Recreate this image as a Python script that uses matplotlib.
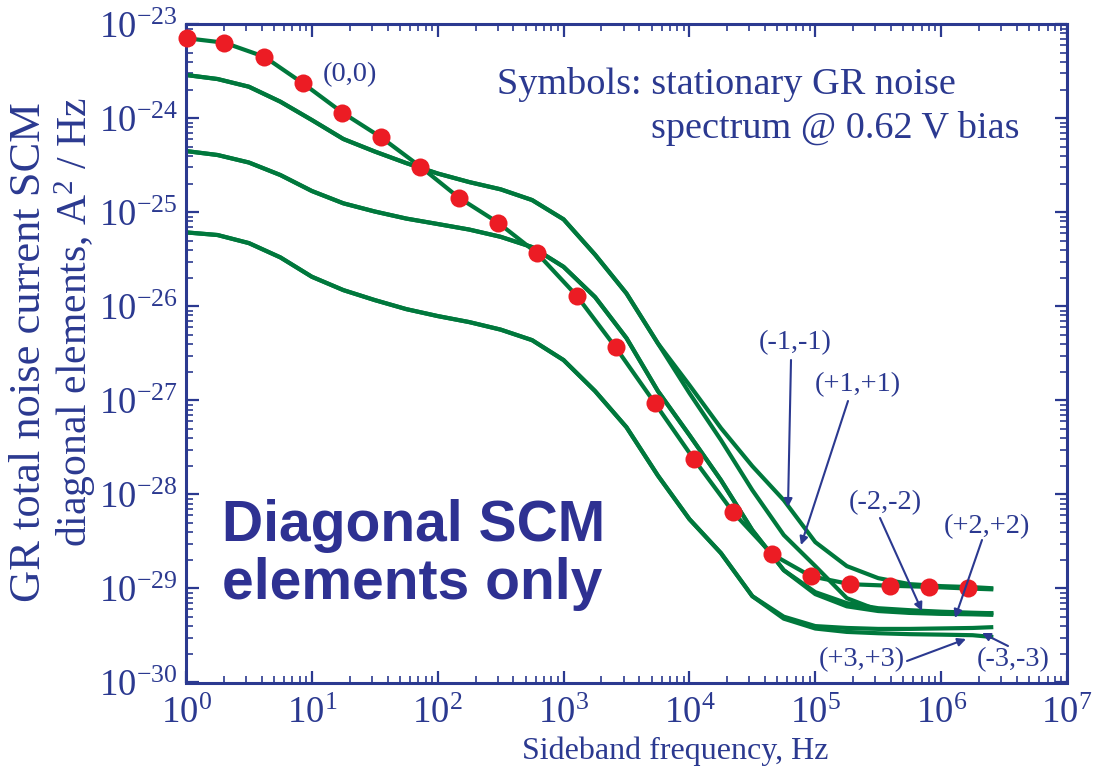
import numpy as np
import matplotlib
matplotlib.use("Agg")
import matplotlib.pyplot as plt
from matplotlib.ticker import FixedLocator, NullFormatter, LogFormatterSciNotation

# ---------------- data ----------------
# symbols: stationary GR noise spectrum @ 0.62 V bias
dot_freq = [1.02, 2.02, 4.19, 8.49, 17.5, 35.5, 72.9, 147.6, 303, 618,
            1270, 2594, 5330, 10820, 22280, 45400, 92300, 189700, 389000,
            794000, 1622000]
dot_psd = [7.1e-24, 6.37e-24, 4.52e-24, 2.36e-24, 1.15e-24, 6.28e-25,
           3.06e-25, 1.43e-25, 7.74e-26, 3.66e-26, 1.30e-26, 3.66e-27,
           9.29e-28, 2.38e-28, 6.44e-29, 2.31e-29, 1.35e-29, 1.11e-29,
           1.07e-29, 1.04e-29, 1.0e-29]

# curve (0,0)
f00 = dot_freq + [2.5e6]
s00 = dot_psd + [9.8e-30]

# common frequency grid of the SCM curves
freq = [1, 1.78, 3.16, 5.62, 10, 17.8, 31.6, 56.2, 100, 178, 316, 562, 1000,
        1780, 3160, 5620, 1e4, 1.78e4, 3.16e4, 5.62e4, 1e5, 1.78e5, 3.16e5,
        5.62e5, 1e6, 1.78e6, 2.5e6]

# log10 of PSD for each diagonal element
lg_m1 = [-23.539, -23.582, -23.664, -23.823, -24.018, -24.220, -24.353,
         -24.476, -24.587, -24.678, -24.755, -24.869, -25.074, -25.45,
         -25.862, -26.394, -26.837, -27.294, -27.699, -28.061, -28.507,
         -28.762, -28.890, -28.954, -28.975, -28.986, -28.997]
lg_p1 = [-23.539, -23.582, -23.664, -23.823, -24.018, -24.220, -24.353,
         -24.476, -24.587, -24.678, -24.755, -24.869, -25.074, -25.45,
         -25.862, -26.394, -26.922, -27.422, -27.954, -28.432, -28.762,
         -29.103, -29.231, -29.252, -29.263, -29.263, -29.263]
lg_m2 = [-24.348, -24.390, -24.470, -24.603, -24.773, -24.904, -24.991,
         -25.066, -25.124, -25.183, -25.260, -25.369, -25.579, -25.901,
         -26.337, -26.901, -27.369, -27.848, -28.380, -28.806, -29.039,
         -29.156, -29.210, -29.231, -29.247, -29.258, -29.263]
lg_p2 = [-24.348, -24.390, -24.470, -24.603, -24.773, -24.904, -24.991,
         -25.066, -25.124, -25.183, -25.260, -25.369, -25.579, -25.901,
         -26.337, -26.901, -27.369, -27.848, -28.380, -28.806, -29.06,
         -29.19, -29.24, -29.26, -29.27, -29.275, -29.28]
lg_m3 = [-25.213, -25.241, -25.327, -25.479, -25.685, -25.827, -25.933,
         -26.029, -26.103, -26.167, -26.247, -26.359, -26.571, -26.901,
         -27.285, -27.800, -28.263, -28.624, -29.082, -29.30, -29.40,
         -29.42, -29.43, -29.43, -29.425, -29.42, -29.412]
lg_p3 = [-25.213, -25.241, -25.327, -25.479, -25.685, -25.827, -25.933,
         -26.029, -26.103, -26.167, -26.247, -26.359, -26.571, -26.901,
         -27.285, -27.800, -28.263, -28.624, -29.082, -29.321, -29.426,
         -29.462, -29.476, -29.486, -29.491, -29.497, -29.515]

curves = {"(-1,-1)": lg_m1, "(+1,+1)": lg_p1, "(-2,-2)": lg_m2,
          "(+2,+2)": lg_p2, "(-3,-3)": lg_m3, "(+3,+3)": lg_p3}

x_decades = [1, 10, 100, 1e3, 1e4, 1e5, 1e6, 1e7]
y_decades = [1e-30, 1e-29, 1e-28, 1e-27, 1e-26, 1e-25, 1e-24, 1e-23]

# ---------------- style ----------------
BLUE = "#2b3990"
NAVY = "#2e3192"
GREEN = "#00783c"
RED = "#ec1c24"
W, H = 1108, 778

plt.rcParams["font.family"] = ["Liberation Serif", "DejaVu Serif"]
plt.rcParams["mathtext.fontset"] = "custom"
plt.rcParams["mathtext.rm"] = "Liberation Serif"
plt.rcParams["mathtext.it"] = "Liberation Serif:italic"
plt.rcParams["mathtext.bf"] = "Liberation Serif:bold"

fig = plt.figure(figsize=(W / 100, H / 100), dpi=100)
ax = fig.add_axes([186 / W, 1 - 682.5 / H, (1067 - 186) / W, (682.5 - 24.3) / H])

for name, lg in curves.items():
    ax.plot(freq, np.power(10.0, lg), color=GREEN, lw=3.0,
            solid_joinstyle="round", zorder=2)
ax.plot(f00, s00, color=GREEN, lw=3.0, zorder=2)
ax.plot(dot_freq, dot_psd, ls="none", marker="o", ms=13, color=RED,
        markeredgewidth=0, zorder=3, clip_on=False)

ax.set_xscale("log")
ax.set_yscale("log")
ax.set_xlim(1, 1e7)
ax.set_ylim(1e-30, 1e-23)

for sp in ax.spines.values():
    sp.set_color(BLUE)
    sp.set_linewidth(2.2)

x_minor = [m * d for d in x_decades[:-1] for m in range(2, 10)]
y_minor = [m * d for d in y_decades[:-1] for m in range(2, 10)]
ax.xaxis.set_major_locator(FixedLocator(x_decades))
ax.yaxis.set_major_locator(FixedLocator(y_decades))
ax.xaxis.set_minor_locator(FixedLocator(x_minor))
ax.yaxis.set_minor_locator(FixedLocator(y_minor))
ax.xaxis.set_major_formatter(LogFormatterSciNotation())
ax.yaxis.set_major_formatter(LogFormatterSciNotation())
ax.xaxis.set_minor_formatter(NullFormatter())
ax.yaxis.set_minor_formatter(NullFormatter())
ax.tick_params(which="both", direction="in", top=True, right=True, color=BLUE,
               labelcolor=BLUE, labelsize=26.5)
ax.tick_params(which="major", length=9, width=1.6)
ax.tick_params(which="minor", length=5, width=1.2)
ax.tick_params(axis="x", which="major", pad=10)
ax.tick_params(axis="y", which="major", pad=6)

# axis titles
fig.text(675 / W, 1 - 751 / H, "Sideband frequency, Hz", fontsize=23,
         color=BLUE, ha="center", va="center")
fig.text(29 / W, 1 - 352 / H, "GR total noise current SCM", fontsize=32,
         color=BLUE, ha="center", va="center", rotation=90)
fig.text(75 / W, 1 - 322 / H, "diagonal elements, A$^2$ / Hz", fontsize=30,
         color=BLUE, ha="center", va="center", rotation=90)

# annotations
fig.text(350 / W, 1 - 75 / H, "(0,0)", fontsize=20.5, color=BLUE,
         ha="center", va="center")
fig.text(497 / W, 1 - 85 / H, "Symbols: stationary GR noise", fontsize=27.5,
         color=BLUE, ha="left", va="center")
fig.text(651 / W, 1 - 128 / H, "spectrum @ 0.62 V bias", fontsize=27.5,
         color=BLUE, ha="left", va="center")
fig.text(222 / W, 1 - 555 / H, "Diagonal SCM\nelements only", fontsize=41,
         family="Liberation Sans", weight="bold", color=NAVY, ha="left",
         va="center", linespacing=1.1)

def px2data(px, py):
    return ax.transData.inverted().transform((px, H - py))

# (label, label centre px, arrow start px, arrow tip px)
arrows = [
    ("(-1,-1)", (795, 343), (791, 360), (788, 507)),
    ("(+1,+1)", (858, 385), (848, 401), (801, 545)),
    ("(-2,-2)", (885, 503), (880, 518), (922, 611)),
    ("(+2,+2)", (987, 527), (982, 540), (955, 618)),
    ("(+3,+3)", (862, 660), (907, 661), (966, 639)),
    ("(-3,-3)", (1013, 660), (1008, 646), (982, 633)),
]
fig.canvas.draw()
for lab, tpos, start, tip in arrows:
    fig.text(tpos[0] / W, 1 - tpos[1] / H, lab, fontsize=20.5, color=BLUE,
             ha="center", va="center")
    ax.annotate("", xy=px2data(*tip), xytext=px2data(*start),
                arrowprops=dict(arrowstyle="-|>", color=BLUE, lw=1.5,
                                mutation_scale=12, shrinkA=0, shrinkB=0))

fig.savefig("out.png", dpi=100)
